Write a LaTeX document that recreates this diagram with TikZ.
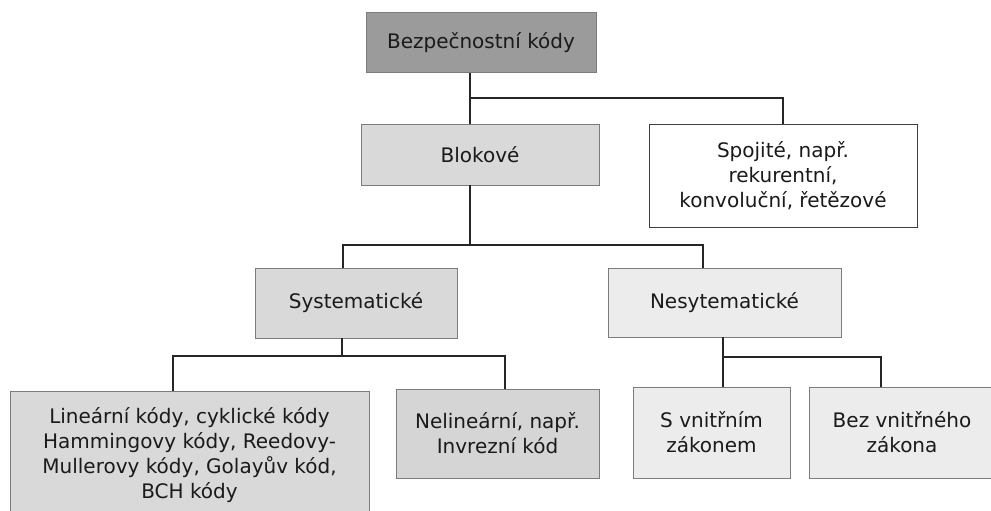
\documentclass[tikz,border=0pt]{standalone}
\usepackage{fontspec}
\setmainfont{DejaVu Sans}
\usetikzlibrary{calc}

\definecolor{rootgray}{HTML}{9B9B9B}
\definecolor{midgray}{HTML}{D9D9D9}
\definecolor{darkmid}{HTML}{D5D5D5}
\definecolor{lightgray}{HTML}{ECECEC}
\definecolor{edgegray}{HTML}{7C7C7C}
\definecolor{textgray}{HTML}{1A1A1A}

\begin{document}
\begin{tikzpicture}[x=1pt, y=1pt]
    \tikzset{box/.style={rectangle, draw=edgegray, line width=1pt, inner sep=0pt, outer sep=0pt,
        align=center, text=textgray, font=\fontsize{20}{25}\selectfont}}
    \tikzset{conn/.style={draw=black!85, line width=1.6pt}}

    \useasboundingbox (0,0) rectangle (991,-511);

    % ── KOREN ────────────────────────────────────────────
    \node[box, fill=rootgray, minimum width=230, minimum height=60] (root) at (481,-43) {Bezpečnostní kódy};

    % ── PRVNI UROVEN ─────────────────────────────────────
    \node[box, fill=midgray, minimum width=238, minimum height=61] (blok) at (480,-154.5) {Blokové};
    \node[box, fill=white, draw=black!75, minimum width=268, minimum height=103] (spoj) at (783,-175.5)
        {Spojité, např.\\ rekurentní,\\ konvoluční, řetězové};

    % ── DRUHA UROVEN ─────────────────────────────────────
    \node[box, fill=midgray, minimum width=202, minimum height=70] (syst) at (356,-303) {Systematické};
    \node[box, fill=lightgray, minimum width=233, minimum height=69] (nesy) at (724.5,-302.5) {Nesytematické};

    % ── TRETI UROVEN ─────────────────────────────────────
    \node[box, fill=midgray, minimum width=359, minimum height=128] (lin) at (189.5,-455)
        {Lineární kódy, cyklické kódy\\ Hammingovy kódy, Reedovy-\\ Mullerovy kódy, Golayův kód,\\ BCH kódy};
    \node[box, fill=darkmid, minimum width=203, minimum height=89] (nelin) at (497.5,-433.5)
        {Nelineární, např.\\ Invrezní kód};
    \node[box, fill=lightgray, minimum width=157, minimum height=91] (svn) at (711.5,-432.5)
        {S vnitřním\\ zákonem};
    \node[box, fill=lightgray, minimum width=186, minimum height=91] (bez) at (902,-432.5)
        {Bez vnitřného\\ zákona};

    % ── SPOJNICE ─────────────────────────────────────────
    % rozbocovaci body (svisle cary nejsou presne ve stredu boxu)
    \coordinate (rootfork) at ([xshift=-11pt, yshift=-25pt]root.south);
    \coordinate (blokfork) at ([xshift=-10pt, yshift=-60pt]blok.south);
    \coordinate (systfork) at ([xshift=-14pt, yshift=-18pt]syst.south);
    \coordinate (nesyfork) at ([xshift=-1.5pt, yshift=-20pt]nesy.south);

    \draw[conn] ([xshift=-11pt]root.south) -- ([xshift=-10pt]blok.north);
    \draw[conn] (rootfork) -| (spoj.north);

    \draw[conn] ([xshift=-10pt]blok.south) -- (blokfork);
    \draw[conn] (blokfork) -| ([xshift=-13pt]syst.north);
    \draw[conn] (blokfork) -| ([xshift=-21.5pt]nesy.north);

    \draw[conn] ([xshift=-14pt]syst.south) -- (systfork);
    \draw[conn] (systfork) -| ([xshift=-16.5pt]lin.north);
    \draw[conn] (systfork) -| ([xshift=7.5pt]nelin.north);

    \draw[conn] ([xshift=-1.5pt]nesy.south) -- (nesyfork);
    \draw[conn] (nesyfork) -| ([xshift=11.5pt]svn.north);
    \draw[conn] (nesyfork) -| ([xshift=-21pt]bez.north);

\end{tikzpicture}
\end{document}
